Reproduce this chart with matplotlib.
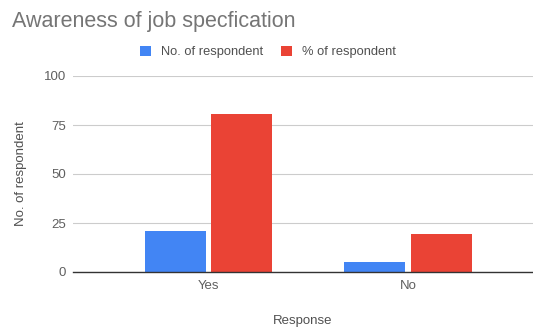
import matplotlib
matplotlib.use("Agg")
import matplotlib.pyplot as plt
import numpy as np

categories = ["Yes", "No"]
num_respondent = [21, 5]
pct_respondent = [80.77, 19.23]
series_names = ["No. of respondent", "% of respondent"]
yticks = [0, 25, 50, 75, 100]

plt.rcParams['font.family'] = ['Liberation Sans', 'DejaVu Sans']

W, H = 533, 329
fig = plt.figure(figsize=(W / 100, H / 100), dpi=100)
ax = fig.add_axes([73 / W, 1 - 272 / H, (533 - 73) / W, (272 - 76) / H])

x = np.arange(len(categories))
bw = 0.305
off = 0.167
ax.bar(x - off, num_respondent, bw, color="#4285F4", label=series_names[0], zorder=3)
ax.bar(x + off, pct_respondent, bw, color="#EA4335", label=series_names[1], zorder=3)

ax.set_xlim(-0.679, 1.627)
ax.set_ylim(0, 100)
ax.set_yticks(yticks)
ax.set_yticklabels([str(t) for t in yticks])
ax.set_xticks(x)
ax.set_xticklabels(categories)
ax.grid(axis="y", color="#cccccc", linewidth=0.8, zorder=0)
for s in ["top", "right", "left"]:
    ax.spines[s].set_visible(False)
ax.spines["bottom"].set_color("#333333")
ax.spines["bottom"].set_linewidth(1.0)
ax.spines["bottom"].set_zorder(4)
ax.tick_params(axis="both", length=0, labelsize=9.5, labelcolor="#5f5f5f")
ax.tick_params(axis="y", pad=5)
ax.tick_params(axis="x", pad=6)

ax.set_ylabel("No. of respondent", fontsize=9.5, color="#505050", labelpad=12)
ax.set_xlabel("Response", fontsize=9.5, color="#505050", labelpad=16)

fig.text(12 / W, 1 - 21 / H, "Awareness of job specfication", fontsize=15.5,
         color="#757575", va="center", ha="left")

leg = fig.legend(loc="center", bbox_to_anchor=(268 / W, 1 - 52 / H), ncol=2,
                 frameon=False, fontsize=9.3, handlelength=0.85, handleheight=0.85,
                 columnspacing=1.4, handletextpad=0.8, labelcolor="#505050")

fig.savefig("out.png", dpi=100)
